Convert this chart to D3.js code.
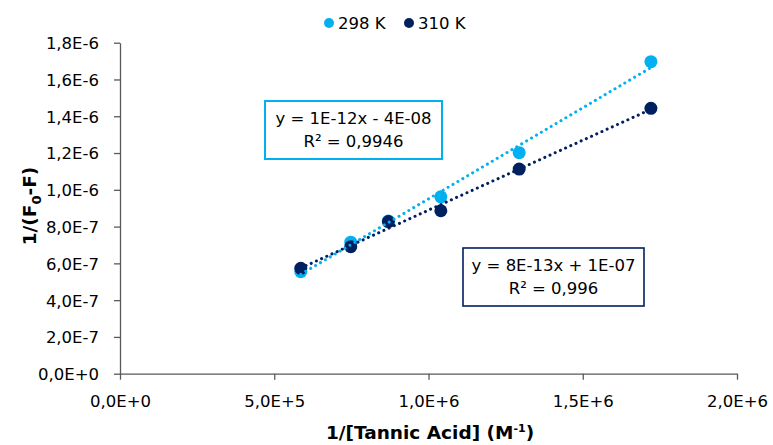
<!DOCTYPE html>
<html><head><meta charset="utf-8">
<script src="https://cdn.jsdelivr.net/npm/d3@7"></script>
<style>
body{margin:0;background:#fff;}
text{font-family:"DejaVu Sans",sans-serif;}
</style></head>
<body><svg id="c" width="773" height="445"></svg>
<script>
const xValues = [5.86e5, 7.48e5, 8.70e5, 1.040e6, 1.294e6, 1.721e6];
const y298 = [5.55e-7, 7.15e-7, 8.30e-7, 9.62e-7, 1.202e-6, 1.697e-6];
const y310 = [5.73e-7, 6.91e-7, 8.27e-7, 8.86e-7, 1.113e-6, 1.443e-6];
const seriesNames = ["298 K", "310 K"];
const seriesColors = ["#00B0F0", "#002060"];
const xTicks = [0, 5e5, 1e6, 1.5e6, 2e6];
const xTickLabels = ["0,0E+0", "5,0E+5", "1,0E+6", "1,5E+6", "2,0E+6"];
const yTicks = [0, 2e-7, 4e-7, 6e-7, 8e-7, 1e-6, 1.2e-6, 1.4e-6, 1.6e-6, 1.8e-6];
const yTickLabels = ["0,0E+0","2,0E-7","4,0E-7","6,0E-7","8,0E-7","1,0E-6","1,2E-6","1,4E-6","1,6E-6","1,8E-6"];
const equations = [["y = 1E-12x - 4E-08", "R² = 0,9946"], ["y = 8E-13x + 1E-07", "R² = 0,996"]];

const svg = d3.select("#c");
const x = d3.scaleLinear().domain([0, 2e6]).range([120, 737]);
const y = d3.scaleLinear().domain([0, 1.8e-6]).range([373.7, 42.7]);
const axisColor = "#595959";
const fs = 16.5;

// axes
const gx = svg.append("g").attr("transform", `translate(0,${y(0)})`)
  .call(d3.axisBottom(x).tickValues(xTicks).tickSize(6).tickSizeOuter(0).tickFormat((d,i)=>xTickLabels[i]));
const gy = svg.append("g").attr("transform", `translate(${x(0)},0)`)
  .call(d3.axisLeft(y).tickValues(yTicks).tickSize(6).tickSizeOuter(0).tickFormat((d,i)=>yTickLabels[i]));
[gx, gy].forEach(g => {
  g.select(".domain").attr("stroke", axisColor).attr("stroke-width", 1.3);
  g.selectAll(".tick line").attr("stroke", axisColor).attr("stroke-width", 1.3);
  g.selectAll(".tick text").attr("fill", "#000").style("font-size", fs + "px");
});
gx.selectAll(".tick text").attr("dy", null).attr("y", 33);
gy.selectAll(".tick text").attr("x", -21).attr("dy", "0.36em");

// data
const series = [y298, y310].map((ys, i) => ({
  name: seriesNames[i], color: seriesColors[i],
  pts: xValues.map((xv, j) => ({x: xv, y: ys[j]}))
}));

function fit(pts) {
  const mx = d3.mean(pts, d => d.x), my = d3.mean(pts, d => d.y);
  const b = d3.sum(pts, d => (d.x - mx) * (d.y - my)) / d3.sum(pts, d => (d.x - mx) ** 2);
  return {b, a: my - b * mx};
}

// points
series.forEach(s => {
  svg.append("g").selectAll("circle").data(s.pts).join("circle")
    .attr("cx", d => x(d.x)).attr("cy", d => y(d.y)).attr("r", 6.5).attr("fill", s.color);
});
// trendlines
series.forEach(s => {
  const f = fit(s.pts);
  const [x0, x1] = d3.extent(s.pts, d => d.x);
  svg.append("line")
    .attr("x1", x(x0)).attr("y1", y(f.a + f.b * x0))
    .attr("x2", x(x1)).attr("y2", y(f.a + f.b * x1))
    .attr("stroke", s.color).attr("stroke-width", 3)
    .attr("stroke-linecap", "round").attr("stroke-dasharray", "0.1 5.6");
});

// equation boxes
const boxes = [{x0: 265, y0: 101, x1: 442, y1: 159, sw: 2}, {x0: 463, y0: 248, x1: 644, y1: 306, sw: 1.6}];
boxes.forEach((b, i) => {
  svg.append("rect").attr("x", b.x0).attr("y", b.y0).attr("width", b.x1 - b.x0).attr("height", b.y1 - b.y0)
    .attr("fill", "#fff").attr("stroke", seriesColors[i]).attr("stroke-width", b.sw);
  const cx = (b.x0 + b.x1) / 2;
  equations[i].forEach((t, k) => {
    svg.append("text").attr("x", cx).attr("y", b.y0 + 23 + k * 23).attr("text-anchor", "middle")
      .style("font-size", fs + "px").attr("fill", "#000").text(t);
  });
});

// legend
const leg = svg.append("g");
const legX = [329, 409];
seriesNames.forEach((n, i) => {
  leg.append("circle").attr("cx", legX[i]).attr("cy", 23).attr("r", 5).attr("fill", seriesColors[i]);
  leg.append("text").attr("x", legX[i] + 9).attr("y", 29).style("font-size", fs + "px").attr("fill", "#000").text(n);
});

// axis titles
const xt = svg.append("text").attr("x", 430).attr("y", 439).attr("text-anchor", "middle")
  .style("font-size", "18.5px").style("font-weight", "bold").attr("fill", "#000");
xt.append("tspan").text("1/[Tannic Acid] (M");
xt.append("tspan").attr("dy", -7).style("font-size", "11px").text("-1");
xt.append("tspan").attr("dy", 7).text(")");

const yt = svg.append("text").attr("transform", "translate(36,206) rotate(-90)").attr("text-anchor", "middle")
  .style("font-size", "18.5px").style("font-weight", "bold").attr("fill", "#000");
yt.append("tspan").text("1/(F");
yt.append("tspan").attr("dy", 5).style("font-size", "13px").text("0");
yt.append("tspan").attr("dy", -5).text("-F)");
</script></body></html>
